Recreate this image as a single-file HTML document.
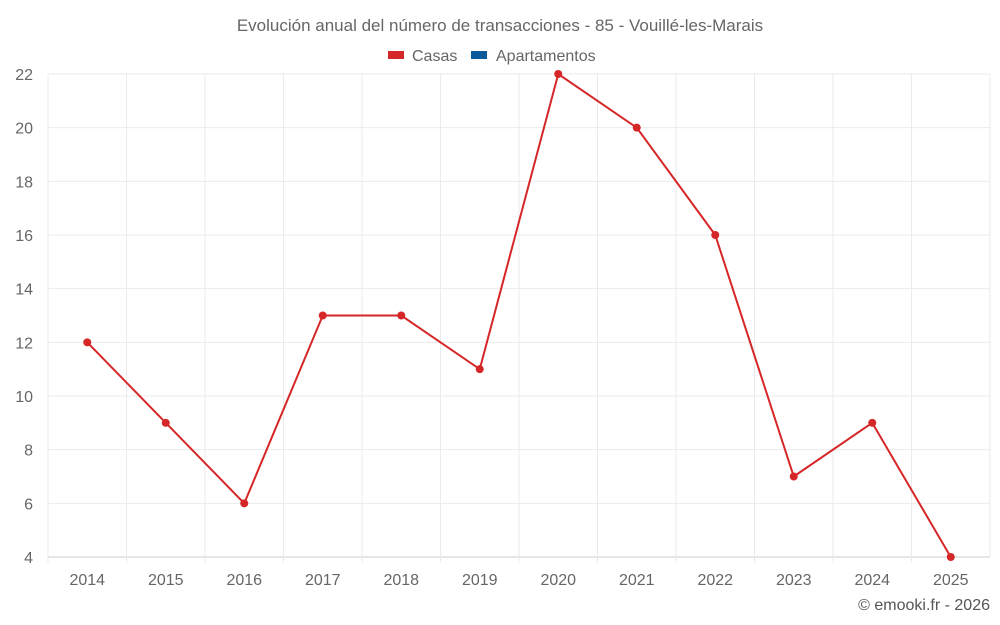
<!DOCTYPE html>
<html><head><meta charset="utf-8"><style>
html,body{margin:0;padding:0;background:#fff;width:1000px;height:625px;overflow:hidden;font-family:"Liberation Sans",sans-serif;}
</style></head><body>
<svg id="chart" width="1000" height="625" xmlns="http://www.w3.org/2000/svg">
<text x="500" y="31" text-anchor="middle" font-size="17" fill="#666">Evolución anual del número de transacciones - 85 - Vouillé-les-Marais</text>
<g>
<g><rect x="388" y="51" width="16" height="8" fill="#d62728"/><text x="412" y="61" font-size="16" fill="#666">Casas</text></g>
<g><rect x="471" y="51" width="16" height="8" fill="#0a5a9c"/><text x="496" y="61" font-size="16" fill="#666">Apartamentos</text></g>
</g>
<g id="grid"></g>
<g id="axes"></g>
<g id="series"></g>
<text x="990" y="610" text-anchor="end" font-size="16" fill="#555">© emooki.fr - 2026</text>
</svg>
<script>
const years=["2014","2015","2016","2017","2018","2019","2020","2021","2022","2023","2024","2025"];
const casas=[12,9,6,13,13,11,22,20,16,7,9,4];
const yTicks=[4,6,8,10,12,14,16,18,20,22];
const L=48,R=990,T=74,B=557,yMin=4,yMax=22;
const bw=(R-L)/years.length;
const xs=i=>L+bw*(i+0.5);
const ys=v=>B-(v-yMin)/(yMax-yMin)*(B-T);
const NS="http://www.w3.org/2000/svg";
function mk(tag,attrs,parent){const e=document.createElementNS(NS,tag);for(const k in attrs)e.setAttribute(k,attrs[k]);parent.appendChild(e);return e;}
const grid=document.getElementById('grid'),axes=document.getElementById('axes'),ser=document.getElementById('series');
yTicks.forEach(v=>{
 const l=mk('line',{x1:L,x2:R,y1:ys(v),y2:ys(v),stroke:v===yMin?'#ccc':'#ebebeb','stroke-width':1},grid);
 
 
 const t=mk('text',{x:33,y:ys(v)+6,'text-anchor':'end','font-size':16,fill:'#666'},axes);
 t.textContent=v;
 
 
});
for(let i=0;i<=years.length;i++){
 const l=mk('line',{x1:L+bw*i,x2:L+bw*i,y1:T,y2:B+(i<years.length?6:0),stroke:'#ebebeb','stroke-width':1},grid);
 
 
}
years.forEach((y,i)=>{
 const t=mk('text',{x:xs(i),y:585,'text-anchor':'middle','font-size':16,fill:'#666'},axes);
 t.textContent=y;
 
 
});
const p=mk('polyline',{points:casas.map((v,i)=>xs(i)+','+ys(v)).join(' '),fill:'none',stroke:'#d62728','stroke-width':2},ser);


casas.forEach((v,i)=>{
 const c=mk('circle',{cx:xs(i),cy:ys(v),r:4,fill:'#d62728'},ser);
 
 
});
</script>
</body></html>
